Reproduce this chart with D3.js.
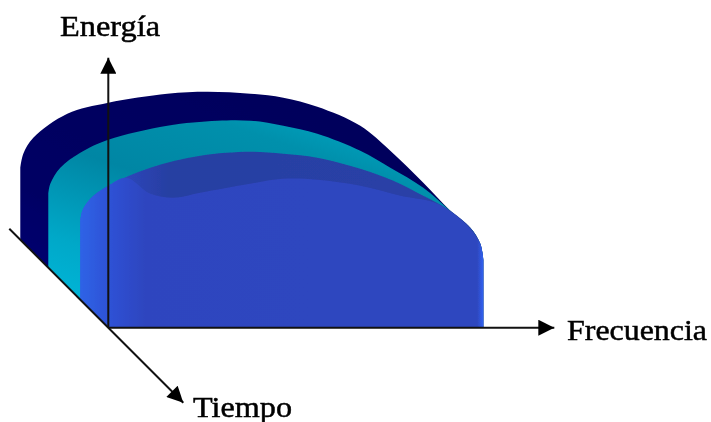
<!DOCTYPE html>
<html><head><meta charset="utf-8">
<script src="https://cdnjs.cloudflare.com/ajax/libs/d3/7.8.5/d3.min.js"></script>
<style>html,body{margin:0;padding:0;background:#fff}svg{display:block}text{font-family:"Liberation Serif",serif;fill:#000;stroke:#000;stroke-width:.5px}</style>
</head><body><svg id="c" width="711" height="422"></svg>
<script>
// Axis labels
const axisLabels = ["Energía", "Frecuencia", "Tiempo"];
// Outlines: frequency, energy
const backFreq   = [-88,-85,-75,-41,0,59,99,142,175,209,252,282,315,342,362,372,375];
const backEnergy = [160,174,190,214,225,234,236,234,230,221,202,177,145,117,100,84,68];
const midFreq    = [-60,-58,-48,-28,0,59,109,142,175,209,252,282,315,342,362,372,375];
const midEnergy  = [134,144,160,175,188,202,207,207,202,194,177,160,140,117,100,84,68];
const innerFreq  = [-28,-26,-18,0,42,92,142,175,209,252,285,315,342,362,372,375];
const innerEnergy= [107,117,129,142,160,172,176,174,170,159,147,132,117,100,84,68];
const frontFreq   = [-28,-26,-18,0,18,42,65,92,142,175,209,252,292,329,359,372,375];
const frontEnergy = [107,117,129,142,150,134,130,135,144,149,148,142,132,124,102,84,68];

const x = d3.scaleLinear().domain([0,375]).range([108.3,483.3]);
const y = d3.scaleLinear().domain([0,257]).range([327.7,70.7]);
const svg = d3.select("#c");
const defs = svg.append("defs");
function blur(id,s){
  defs.append("filter").attr("id",id).attr("x","-5%").attr("y","-10%").attr("width","110%").attr("height","120%")
    .append("feGaussianBlur").attr("stdDeviation",s);
}
blur("soft",0.6); blur("softText",0.3);
function grad(id,x2,y2,stops){
  const g=defs.append("linearGradient").attr("id",id).attr("x1",0).attr("y1",1).attr("x2",x2).attr("y2",y2);
  stops.forEach(s=>g.append("stop").attr("offset",s[0]).attr("stop-color",s[1]));
}
grad("gBack",1,0,[[0,"#00007a"],[0.3,"#000064"],[1,"#000058"]]);
grad("gMid",0.7,0,[[0,"#00bce0"],[0.3,"#00a8c8"],[0.6,"#0086a4"],[0.85,"#0090ac"],[1,"#00a4c0"]]);
const ig=defs.append("linearGradient").attr("id","gInner").attr("x1",0).attr("y1",0).attr("x2",1).attr("y2",0);
[[0,"#2f58dc"],[0.08,"#2f48c4"],[0.14,"#2c44b4"],[0.22,"#273fa2"],[1,"#2a40a8"]].forEach(s=>ig.append("stop").attr("offset",s[0]).attr("stop-color",s[1]));
const fg=defs.append("linearGradient").attr("id","gFront").attr("x1",0).attr("y1",0).attr("x2",1).attr("y2",0);
[[0,"#2f63e6"],[0.07,"#2f52d6"],[0.16,"#2f45bf"],[0.985,"#2f47bf"],[1,"#3062f2"]].forEach(s=>fg.append("stop").attr("offset",s[0]).attr("stop-color",s[1]));

const curve = d3.line().x(d=>x(d[0])).y(d=>y(d[1])).curve(d3.curveCatmullRom.alpha(0.5));
const shapes = svg.append("g").attr("filter","url(#soft)");
function layer(fr,en,fill){
  const top=curve(d3.zip(fr,en));
  const p=top+"L"+x(375)+","+y(0)+"L"+x(0)+","+y(0)+"L"+x(fr[0])+","+y(-fr[0])+"Z";
  shapes.append("path").attr("d",p).attr("fill",fill);
}
layer(backFreq,backEnergy,"url(#gBack)");
layer(midFreq,midEnergy,"url(#gMid)");
layer(innerFreq,innerEnergy,"url(#gInner)");
layer(frontFreq,frontEnergy,"url(#gFront)");

defs.append("marker").attr("id","ah").attr("viewBox","0 0 10 10").attr("refX",10).attr("refY",5)
  .attr("markerWidth",17).attr("markerHeight",16).attr("markerUnits","userSpaceOnUse").attr("orient","auto")
  .append("path").attr("d","M0,0L10,5L0,10Z").attr("fill","#000");
function axis(a,b){
  svg.append("line").attr("x1",x(a[0])).attr("y1",y(a[1])).attr("x2",x(b[0])).attr("y2",y(b[1]))
    .attr("stroke","#111").attr("stroke-width",2).attr("marker-end","url(#ah)");
}
axis([0,0],[0,270]);
axis([0,0],[446,0]);
axis([-99,99],[75,-75]);

function label(t,px,py,w){
  svg.append("text").attr("x",px).attr("y",py).attr("font-size",30).attr("filter","url(#softText)")
    .attr("textLength",w).attr("lengthAdjust","spacingAndGlyphs").text(t);
}
label(axisLabels[0],60,36,100);
label(axisLabels[1],567,340,140);
label(axisLabels[2],193,417,99);
</script></body></html>
